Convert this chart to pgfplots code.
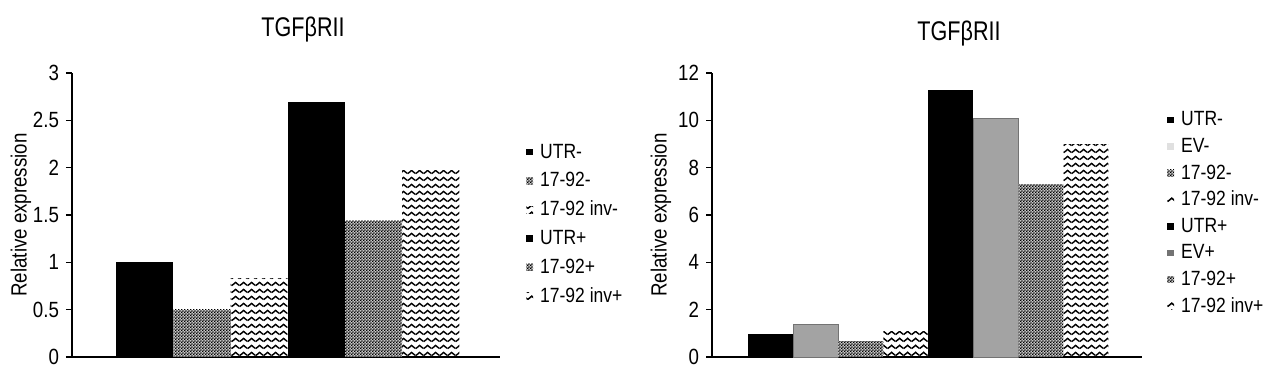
\documentclass[border=0pt]{standalone}
\usepackage{fontspec}
\setmainfont{Liberation Sans}[FakeStretch=0.85]
\newfontfamily\titlefont{Liberation Sans}[FakeStretch=0.8]
\usepackage{pgfplots}
\pgfplotsset{compat=1.18}
\usetikzlibrary{patterns}

\pgfdeclarepatternformonly{waves}{\pgfpointorigin}{\pgfqpoint{4pt}{3.5pt}}{\pgfqpoint{4pt}{3.5pt}}{%
  \pgfsetlinewidth{0.8pt}%
  \pgfpathmoveto{\pgfqpoint{-0.2pt}{0.8pt}}%
  \pgfpathcurveto{\pgfqpoint{0.7pt}{0.8pt}}{\pgfqpoint{1.3pt}{2.6pt}}{\pgfqpoint{2pt}{2.6pt}}%
  \pgfpathcurveto{\pgfqpoint{2.7pt}{2.6pt}}{\pgfqpoint{3.3pt}{0.8pt}}{\pgfqpoint{4.2pt}{0.8pt}}%
  \pgfusepath{stroke}%
}
\pgfdeclarepatternformonly{checker}{\pgfpointorigin}{\pgfqpoint{1.6pt}{1.6pt}}{\pgfqpoint{1.6pt}{1.6pt}}{%
  \pgfpathrectangle{\pgfpointorigin}{\pgfqpoint{0.8pt}{0.8pt}}%
  \pgfpathrectangle{\pgfqpoint{0.8pt}{0.8pt}}{\pgfqpoint{0.8pt}{0.8pt}}%
  \pgfusepath{fill}%
}

\pgfplotsset{
  mybase/.style={
    scale only axis,
    height=142pt,
    ymin=0,
    axis x line*=bottom,
    axis y line*=left,
    axis line style={line width=0.6pt, black},
    xtick=\empty,
    tick align=outside,
    major tick length=3pt,
    ytick style={line width=0.6pt, black},
    /pgf/number format/assume math mode=true,
    tick label style={font=\fontsize{11}{13}\selectfont},
    legend cell align=left,
    legend image code/.code={\fill[##1] (0pt,-1.7pt) rectangle (3.4pt,1.7pt);},
    legend style={anchor=west, draw=none, fill=none, inner sep=0pt,
      font=\fontsize{10.3}{12}\selectfont,
      nodes={inner sep=1pt, text height=8pt, text depth=2pt},
      /tikz/every odd column/.style={column sep=2.5pt}},
  },
  utr/.style={fill=black, draw=none},
  mir/.style={fill=black!22, draw=none, postaction={pattern=checker, pattern color=black}},
  inv/.style={pattern=waves, pattern color=black, draw=none},
  ev/.style={fill=black!36, draw=black!55, line width=0.4pt},
}

\begin{document}
\begin{tikzpicture}
\path[use as bounding box] (0,0) rectangle (640pt,188.5pt);

% ---------- left ----------
\begin{axis}[mybase, at={(36pt,10pt)}, anchor=south west,
  width=214pt, xmin=-0.27, xmax=7.21, ymax=3,
  ytick={0,0.5,1,1.5,2,2.5,3},
  yticklabels={0,0.5,1,1.5,2,2.5,3},
  legend style={at={(1.0607,0.468)}, row sep=2.4pt}]
\addlegendimage{utr}\addlegendentry{UTR-}
\addlegendimage{mir}\addlegendentry{17-92-}
\addlegendimage{inv}\addlegendentry{17-92 inv-}
\addlegendimage{utr}\addlegendentry{UTR+}
\addlegendimage{mir}\addlegendentry{17-92+}
\addlegendimage{inv}\addlegendentry{17-92 inv+}
\addplot[ybar, bar width=1, utr, forget plot] coordinates {(1,1.00)};
\addplot[ybar, bar width=1, mir, forget plot] coordinates {(2,0.50)};
\addplot[ybar, bar width=1, inv, forget plot] coordinates {(3,0.83)};
\addplot[ybar, bar width=1, utr, forget plot] coordinates {(4,2.69)};
\addplot[ybar, bar width=1, mir, forget plot] coordinates {(5,1.44)};
\addplot[ybar, bar width=1, inv, forget plot] coordinates {(6,1.97)};
\end{axis}
\node[font=\titlefont\fontsize{13.5}{15}\selectfont] at (151.5pt,173.5pt) {TGFβRII};
\node[rotate=90, font=\fontsize{11}{13}\selectfont] at (10.5pt,81pt) {Relative expression};

% ---------- right ----------
\begin{axis}[mybase, at={(356pt,10pt)}, anchor=south west,
  width=215pt, xmin=-0.31, xmax=9.25, ymax=12,
  ytick={0,2,4,6,8,10,12},
  legend style={at={(1.058,0.507)}, row sep=1.3pt}]
\addlegendimage{utr}\addlegendentry{UTR-}
\addlegendimage{fill=black!12, draw=none}\addlegendentry{EV-}
\addlegendimage{mir}\addlegendentry{17-92-}
\addlegendimage{inv}\addlegendentry{17-92 inv-}
\addlegendimage{utr}\addlegendentry{UTR+}
\addlegendimage{fill=black!55, draw=none}\addlegendentry{EV+}
\addlegendimage{mir}\addlegendentry{17-92+}
\addlegendimage{inv}\addlegendentry{17-92 inv+}
\addplot[ybar, bar width=1, utr, forget plot] coordinates {(1,0.97)};
\addplot[ybar, bar width=1, ev,  forget plot] coordinates {(2,1.36)};
\addplot[ybar, bar width=1, mir, forget plot] coordinates {(3,0.67)};
\addplot[ybar, bar width=1, inv, forget plot] coordinates {(4,1.07)};
\addplot[ybar, bar width=1, utr, forget plot] coordinates {(5,11.30)};
\addplot[ybar, bar width=1, ev,  forget plot] coordinates {(6,10.10)};
\addplot[ybar, bar width=1, mir, forget plot] coordinates {(7,7.31)};
\addplot[ybar, bar width=1, inv, forget plot] coordinates {(8,8.99)};
\end{axis}
\node[font=\titlefont\fontsize{13.5}{15}\selectfont] at (479.5pt,171.5pt) {TGFβRII};
\node[rotate=90, font=\fontsize{11}{13}\selectfont] at (330.5pt,81pt) {Relative expression};
\end{tikzpicture}
\end{document}
